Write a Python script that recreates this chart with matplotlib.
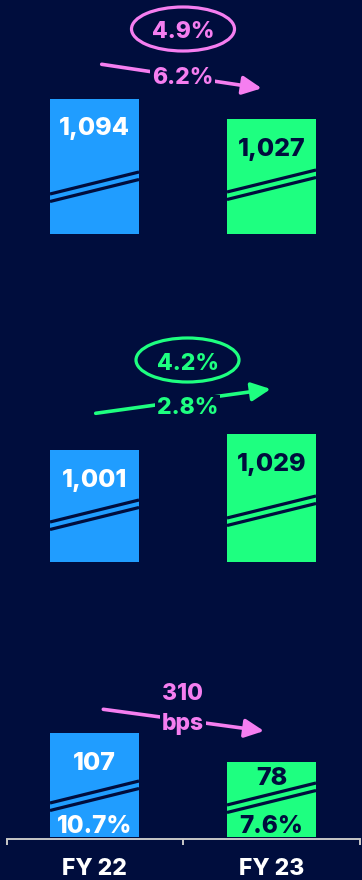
import matplotlib.pyplot as plt
from matplotlib.patches import Ellipse, FancyArrowPatch

plt.rcParams['font.family'] = ['Inter', 'DejaVu Sans']
WEIGHT = 'heavy'

NAVY = '#000d3d'
BLUE = '#209dff'
GREEN = '#1eff80'
PINK = '#f57ef0'

years = ['FY 22', 'FY 23']
revenue = [1094, 1027]
revenue_text = ['1,094', '1,027']
gross = [1001, 1029]
gross_text = ['1,001', '1,029']
ebitda = [107, 78]
ebitda_text = ['107', '78']
margins = ['10.7%', '7.6%']
changes = ['6.2%', '2.8%', '310\nbps']
circled = ['4.9%', '4.2%', None]

W, H = 362, 880
fig = plt.figure(figsize=(W / 100, H / 100), dpi=100)
fig.patch.set_facecolor(NAVY)


def px_axes(top, bottom):
    ax = fig.add_axes([0, 1 - bottom / H, 1, (bottom - top) / H])
    ax.set_facecolor('none')
    return ax


# panels: (values, labels, pixel top, pixel bottom, axis floor, px per unit)
panels = [
    (revenue, revenue_text, 0, 234, 640, 135 / 454),
    (gross, gross_text, 300, 562, 805, 112 / 196),
    (ebitda, ebitda_text, 660, 837, 3, 1.0),
]
xpos = [0, 1]
bar_w = 89 / 177
label_drop = [[27, 28], [27.5, 28], [28, 14]]
break_h = [[40, 42], [40, 44], [34, 32]]
PT = 0.72  # points per pixel

axes = []
for i, (vals, texts, top, bottom, floor, s) in enumerate(panels):
    ax = px_axes(top, bottom)
    ax.set_xlim(-94.5 / 177, (W - 94.5) / 177)
    ax.set_ylim(floor, floor + (bottom - top) / s)
    ax.bar(xpos, vals, width=bar_w, color=[BLUE, GREEN], zorder=2)
    for j, x in enumerate(xpos):
        tc = 'white' if j == 0 else NAVY
        ax.annotate(texts[j], (x, vals[j]), xytext=(0, -label_drop[i][j] * PT),
                    textcoords='offset points', ha='center', va='center_baseline',
                    fontsize=18, fontweight=WEIGHT, color=tc, zorder=4)
        # axis-break stripes across the bar
        x0, x1 = x - bar_w / 2, x + bar_w / 2
        for off in (0, -7.5):
            y0 = floor + (break_h[i][j] + off) / s
            y1 = floor + (break_h[i][j] + off + 22) / s
            ax.plot([x0, x1], [y0, y1], color=NAVY, lw=2.3, zorder=3,
                    solid_capstyle='butt')
    for sp in ax.spines.values():
        sp.set_visible(False)
    ax.set_xticks([])
    ax.set_yticks([])
    axes.append(ax)

# margin labels at the foot of the last panel
ax3 = axes[2]
for j, x in enumerate(xpos):
    tc = 'white' if j == 0 else NAVY
    ax3.annotate(margins[j], (x, panels[2][4]), xytext=(0, 13 * PT),
                 textcoords='offset points', ha='center', va='center_baseline',
                 fontsize=17.5, fontweight=WEIGHT, color=tc, zorder=4)

# category axis under the last panel
ax3.spines['bottom'].set_visible(True)
ax3.spines['bottom'].set_color('#c8c8c8')
ax3.spines['bottom'].set_linewidth(1.4)
ax3.spines['bottom'].set_position(('outward', 2 * PT))
ax3.spines['bottom'].set_bounds(-87.5 / 177, 265.5 / 177)
ax3.set_xticks([-87.5 / 177, 0.5, 265.5 / 177])
ax3.set_xticklabels([])
ax3.tick_params(axis='x', which='major', direction='out', length=6 * PT,
                width=1.4, color='#c8c8c8')
ax3.set_xticks(xpos, minor=True)
ax3.set_xticklabels(years, minor=True, fontsize=16.5, fontweight=WEIGHT,
                    color='white')
ax3.tick_params(axis='x', which='minor', length=0, pad=14)

# overlay in pixel units for the change callouts
ov = fig.add_axes([0, 0, 1, 1])
ov.set_xlim(0, W)
ov.set_ylim(H, 0)
ov.axis('off')
ov.set_facecolor('none')

arrows = [((101.7, 64.3), (261.7, 88.3), PINK, (182.7, 75)),
          ((95.7, 413.3), (270.7, 389), GREEN, (187.3, 405)),
          ((103.3, 709.3), (264, 731), PINK, (182.7, 709))]
for k, (a, b, c, tpos) in enumerate(arrows):
    ov.add_patch(FancyArrowPatch(a, b, arrowstyle='-|>,head_length=0.58,head_width=0.28',
                                 mutation_scale=20, color=c, lw=2.6,
                                 shrinkA=0, shrinkB=0, zorder=2))
    ov.text(tpos[0], tpos[1], changes[k], ha='center',
            va='center' if '\n' in changes[k] else 'center_baseline',
            fontsize=16.5, fontweight=WEIGHT, color=c, zorder=3,
            linespacing=1.45,
            bbox=dict(boxstyle='square,pad=0.08', fc=NAVY, ec='none'))

circles = [((183, 29), PINK), ((187.5, 360), GREEN)]
for k, (ctr, c) in enumerate(circles):
    ov.add_patch(Ellipse(ctr, 103, 44, fill=False, ec=c, lw=2.3))
    ov.text(ctr[0], ctr[1] + 1, circled[k], ha='center', va='center_baseline',
            fontsize=16.5, fontweight=WEIGHT, color=c)

fig.savefig('out.png', dpi=100, facecolor=NAVY)
